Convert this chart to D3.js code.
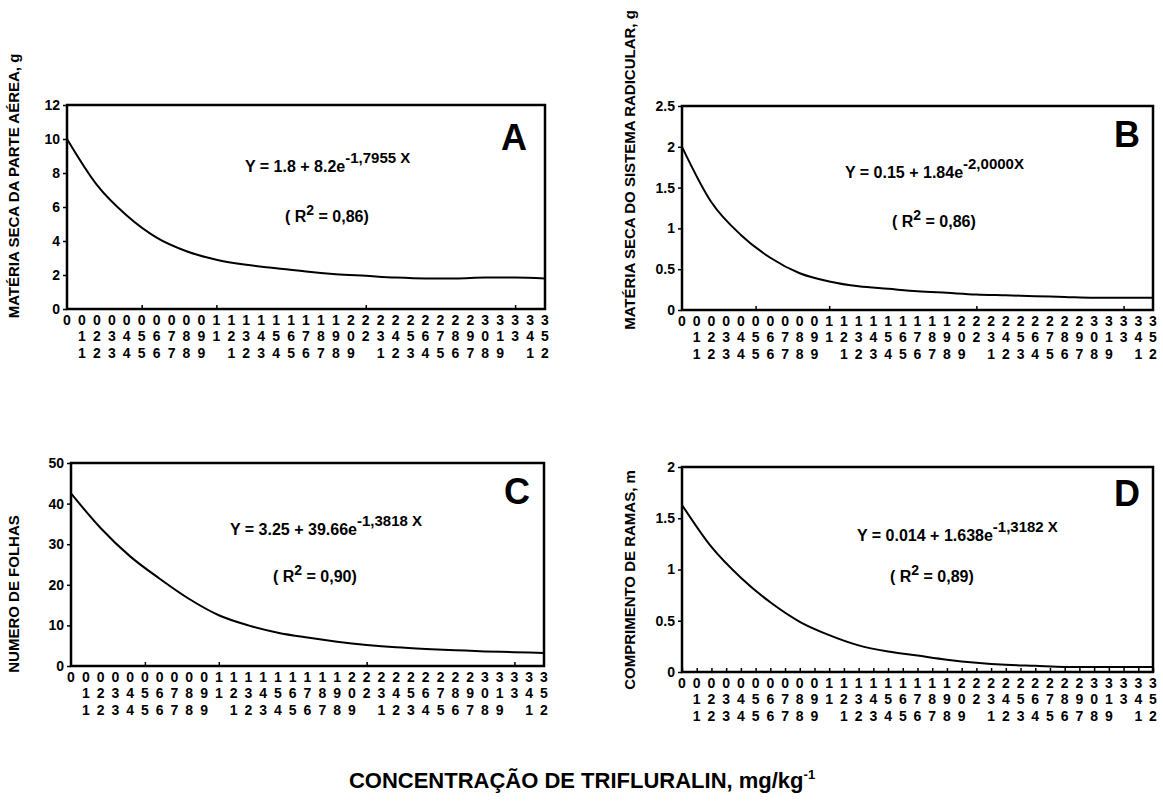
<!DOCTYPE html>
<html>
<head>
<meta charset="utf-8">
<script src="https://cdn.jsdelivr.net/npm/d3@7"></script>
<style>
  body { margin: 0; background: #fff; }
  svg { font-family: "Liberation Sans", Arial, sans-serif; }
</style>
</head>
<body>
<svg width="1163" height="812"></svg>
<script>
// x tick labels (concentration), drawn as stacked digits
var xTickLabels = ["0","0.11","0.22","0.33","0.44","0.55","0.66","0.77","0.88","0.99",
  "1.1","1.21","1.32","1.43","1.54","1.65","1.76","1.87","1.98","2.09",
  "2.2","2.31","2.42","2.53","2.64","2.75","2.86","2.97","3.08","3.19",
  "3.3","3.41","3.52"];
var majorTicks = [0.55, 1.1, 2.2, 3.3];

// curve values
var xSample = [0, 0.22, 0.44, 0.66, 0.88, 1.1, 1.32, 1.54, 1.76, 1.98, 2.2, 2.42, 2.64, 2.86, 3.08, 3.3, 3.52];
var seriesA = [10, 7.3, 5.5, 4.2, 3.4, 2.9, 2.6, 2.4, 2.2, 2.05, 1.95, 1.85, 1.8, 1.8, 1.85, 1.85, 1.8];
var seriesB = [2.0, 1.32, 0.92, 0.64, 0.45, 0.35, 0.29, 0.26, 0.23, 0.21, 0.19, 0.18, 0.17, 0.16, 0.15, 0.15, 0.15];
var seriesC = [42.5, 34, 27, 21.5, 16.5, 12.5, 10, 8.2, 7, 6, 5.2, 4.6, 4.2, 3.9, 3.6, 3.4, 3.2];
var seriesD = [1.63, 1.22, 0.92, 0.68, 0.49, 0.36, 0.26, 0.2, 0.16, 0.12, 0.09, 0.07, 0.06, 0.05, 0.05, 0.05, 0.05];

var yTicksA = [0, 2, 4, 6, 8, 10, 12];
var yTicksB = [0, 0.5, 1, 1.5, 2, 2.5];
var yTicksC = [0, 10, 20, 30, 40, 50];
var yTicksD = [0, 0.5, 1, 1.5, 2];

var titles = ["MATÉRIA SECA DA PARTE AÉREA, g", "MATÉRIA SECA DO SISTEMA RADICULAR, g",
  "NUMERO DE FOLHAS", "COMPRIMENTO DE RAMAS, m"];
var letters = ["A", "B", "C", "D"];
var equations = [
  ["Y = 1.8 + 8.2e", "-1,7955 X"],
  ["Y = 0.15 + 1.84e", "-2,0000X"],
  ["Y = 3.25 + 39.66e", "-1,3818 X"],
  ["Y = 0.014 + 1.638e", "-1,3182 X"]
];
var r2 = ["0,86", "0,86", "0,90", "0,89"];

var svg = d3.select("svg");

// panel boxes in page pixels
var panels = [
  { left: 67,  right: 545,  top: 105, bottom: 309, ys: seriesA, yt: yTicksA, ymax: 12,  allTicks: false,
    titleX: 14,  titleY: 186, eq: [245, 172], r2: [285, 222], letter: [527, 150] },
  { left: 682, right: 1153, top: 106, bottom: 310, ys: seriesB, yt: yTicksB, ymax: 2.5, allTicks: false,
    titleX: 630, titleY: 170, eq: [845, 178], r2: [892, 227], letter: [1140, 147] },
  { left: 71,  right: 544,  top: 463, bottom: 666, ys: seriesC, yt: yTicksC, ymax: 50,  allTicks: false,
    titleX: 14,  titleY: 594, eq: [230, 535], r2: [273, 582], letter: [530, 504] },
  { left: 682, right: 1153, top: 467, bottom: 672, ys: seriesD, yt: yTicksD, ymax: 2,   allTicks: true,
    titleX: 630, titleY: 580, eq: [857, 541], r2: [890, 582], letter: [1140, 506] }
];

panels.forEach(function(p, i) {
  var x = d3.scaleLinear().domain([0, 3.52]).range([p.left, p.right]);
  var y = d3.scaleLinear().domain([0, p.ymax]).range([p.bottom, p.top]);
  var g = svg.append("g");

  // curve
  var line = d3.line()
    .x(function(d, k) { return x(xSample[k]); })
    .y(function(d) { return y(d); })
    .curve(d3.curveMonotoneX);
  g.append("path")
    .datum(p.ys)
    .attr("fill", "none")
    .attr("stroke", "#000")
    .attr("stroke-width", 2)
    .attr("d", line);

  // bottom ticks (inward)
  var tv = p.allTicks ? xTickLabels.map(Number) : majorTicks;
  var xa = g.append("g")
    .attr("transform", "translate(0," + p.bottom + ")")
    .call(d3.axisBottom(x).tickValues(tv).tickSizeInner(-4).tickSizeOuter(0).tickFormat(""));
  xa.select(".domain").remove();
  xa.selectAll(".tick line").attr("stroke", "#000").attr("stroke-width", 1.5);

  // stacked digit labels
  var lab = g.append("g")
    .attr("font-size", 14)
    .attr("font-weight", "bold")
    .attr("text-anchor", "middle");
  xTickLabels.forEach(function(s) {
    var parts = s.split(".");
    var rows = [parts[0], parts[1] ? parts[1][0] : "", parts[1] && parts[1][1] ? parts[1][1] : ""];
    rows.forEach(function(c, r) {
      if (!c) return;
      lab.append("text")
        .attr("x", x(+s))
        .attr("y", p.bottom + 11 + r * 16.5)
        .attr("dy", "0.35em")
        .text(c);
    });
  });

  // left axis
  var ya = g.append("g")
    .attr("transform", "translate(" + p.left + ",0)")
    .call(d3.axisLeft(y).tickValues(p.yt).tickSize(4).tickPadding(3).tickFormat(d3.format("")));
  ya.select(".domain").remove();
  ya.selectAll(".tick line").attr("stroke", "#000").attr("stroke-width", 1.5);
  ya.selectAll(".tick text")
    .attr("font-size", 14)
    .attr("font-weight", "bold")
    .attr("fill", "#000")
    .style("font-family", "Liberation Sans, Arial, sans-serif");

  // frame
  g.append("rect")
    .attr("x", p.left).attr("y", p.top)
    .attr("width", p.right - p.left).attr("height", p.bottom - p.top)
    .attr("fill", "none")
    .attr("stroke", "#000")
    .attr("stroke-width", 2.5);

  // y title
  g.append("text")
    .attr("transform", "translate(" + p.titleX + "," + p.titleY + ") rotate(-90)")
    .attr("text-anchor", "middle")
    .attr("dy", "0.35em")
    .attr("font-size", 15)
    .attr("font-weight", "bold")
    .text(titles[i]);

  // equation
  var eq = g.append("text")
    .attr("x", p.eq[0]).attr("y", p.eq[1])
    .attr("font-size", 16)
    .attr("font-weight", "bold");
  eq.append("tspan").text(equations[i][0]);
  eq.append("tspan").attr("dy", -9).attr("font-size", 15).text(equations[i][1]);

  var rr = g.append("text")
    .attr("x", p.r2[0]).attr("y", p.r2[1])
    .attr("font-size", 16)
    .attr("font-weight", "bold");
  rr.append("tspan").text("( R");
  rr.append("tspan").attr("dy", -7).attr("font-size", 14).text("2");
  rr.append("tspan").attr("dy", 7).text(" = " + r2[i] + ")");

  // panel letter
  g.append("text")
    .attr("x", p.letter[0]).attr("y", p.letter[1])
    .attr("text-anchor", "end")
    .attr("font-size", 36)
    .attr("font-weight", "bold")
    .text(letters[i]);
});

// common x title
var xt = svg.append("text")
  .attr("x", 582).attr("y", 788)
  .attr("text-anchor", "middle")
  .attr("font-size", 22)
  .attr("font-weight", "bold");
xt.append("tspan").text("CONCENTRAÇÃO DE TRIFLURALIN, mg/kg");
xt.append("tspan").attr("dy", -9).attr("font-size", 13).text("-1");
</script>
</body>
</html>
